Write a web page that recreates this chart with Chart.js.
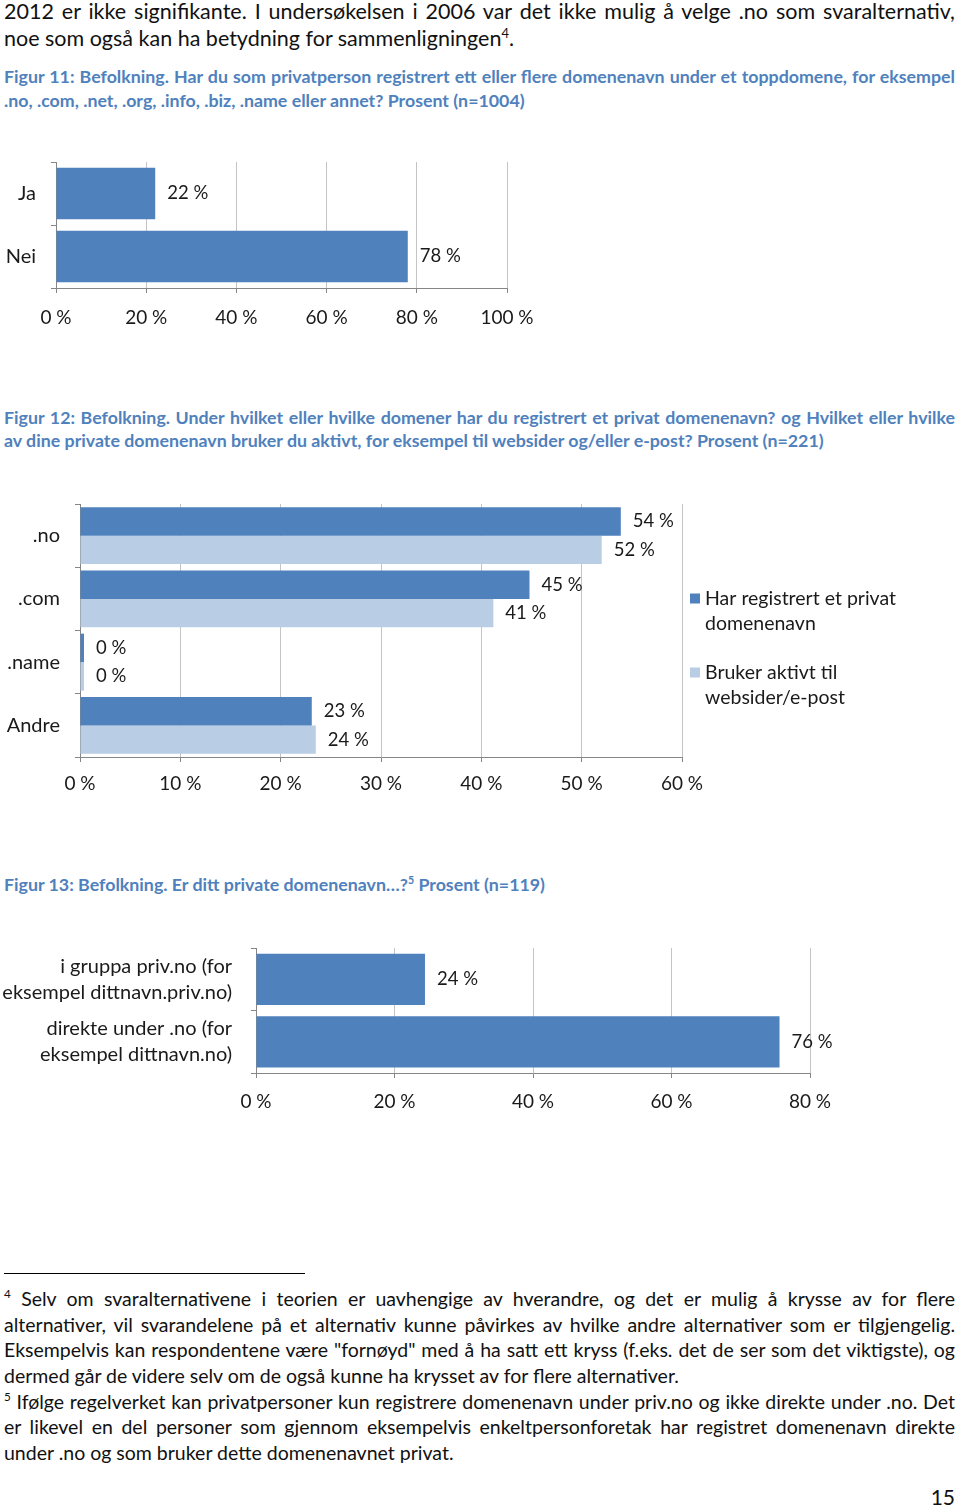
<!DOCTYPE html>
<html>
<head>
<meta charset="utf-8">
<script src="https://cdn.jsdelivr.net/npm/chart.js@4.4.1/dist/chart.umd.min.js"></script>
<style>
    body { margin: 0; width: 960px; height: 1507px; position: relative; background: #fff; font-family: Lato, sans-serif; color: #111; overflow: hidden; }
    .ln { position: absolute; left: 4px; width: 951px; white-space: nowrap; height: 26px; line-height: 26px; }
    .body { font-size: 21.5px; }
    .cap { font-size: 17.8px; font-weight: bold; color: #4F81BD; }
    .fn { font-size: 19.5px; }
    sup { font-size: 0.6em; vertical-align: 0; position: relative; top: -0.65em; }
    canvas { position: absolute; left: 0; }
    #rule { position: absolute; left: 4px; top: 1273px; width: 301px; height: 1px; background: #000; }
    #pagenr { position: absolute; right: 5px; top: 1484px; font-size: 21px; line-height: 26px; }
</style>
</head>
<body>

<div class="ln body j" style="top:-2px"><span>2012 er ikke signifikante. I undersøkelsen i 2006 var det ikke mulig å velge .no som svaralternativ,</span></div>
<div class="ln body" style="top:25px"><span>noe som også kan ha betydning for sammenligningen<sup>4</sup>.</span></div>

<div class="ln cap j" style="top:63px"><span>Figur 11: Befolkning. Har du som privatperson registrert ett eller flere domenenavn under et toppdomene, for eksempel</span></div>
<div class="ln cap" style="top:87px"><span>.no, .com, .net, .org, .info, .biz, .name eller annet? Prosent (n=1004)</span></div>

<canvas id="fig11" width="560" height="190" style="top:150px"></canvas>

<div class="ln cap j" style="top:404px"><span>Figur 12: Befolkning. Under hvilket eller hvilke domener har du registrert et privat domenenavn? og Hvilket eller hvilke</span></div>
<div class="ln cap" style="top:427px"><span>av dine private domenenavn bruker du aktivt, for eksempel til websider og/eller e-post? Prosent (n=221)</span></div>

<canvas id="fig12" width="900" height="310" style="top:495px"></canvas>

<div class="ln cap" style="top:871px"><span>Figur 13: Befolkning. Er ditt private domenenavn…?<sup>5</sup> Prosent (n=119)</span></div>

<canvas id="fig13" width="860" height="180" style="top:940px"></canvas>

<div id="rule"></div>
<div class="ln fn j" style="top:1286px"><span><sup>4</sup> Selv om svaralternativene i teorien er uavhengige av hverandre, og det er mulig å krysse av for flere</span></div>
<div class="ln fn j" style="top:1312px"><span>alternativer, vil svarandelene på et alternativ kunne påvirkes av hvilke andre alternativer som er tilgjengelig.</span></div>
<div class="ln fn j" style="top:1337px"><span>Eksempelvis kan respondentene være "fornøyd" med å ha satt ett kryss (f.eks. det de ser som det viktigste), og</span></div>
<div class="ln fn" style="top:1363px"><span>dermed går de videre selv om de også kunne ha krysset av for flere alternativer.</span></div>
<div class="ln fn j" style="top:1389px"><span><sup>5</sup> Ifølge regelverket kan privatpersoner kun registrere domenenavn under priv.no og ikke direkte under .no. Det</span></div>
<div class="ln fn j" style="top:1414px"><span>er likevel en del personer som gjennom eksempelvis enkeltpersonforetak har registret domenenavn direkte</span></div>
<div class="ln fn" style="top:1440px"><span>under .no og som bruker dette domenenavnet privat.</span></div>
<div id="pagenr">15</div>

<script>
// data
const fig11Labels = ['Ja', 'Nei'];
const fig11Values = [22, 78];

const fig12Labels = ['.no', '.com', '.name', 'Andre'];
const fig12Series = [['Har registrert et privat', 'domenenavn'], ['Bruker aktivt til', 'websider/e-post']];
const fig12Registrert = [53.9, 44.8, 0.4, 23.1];
const fig12Aktivt = [52.0, 41.2, 0.4, 23.5];

const fig13Labels = [['i gruppa priv.no (for', 'eksempel dittnavn.priv.no)'], ['direkte under .no (for', 'eksempel dittnavn.no)']];
const fig13Values = [24.4, 75.6];

const darkBlue = '#4F81BD';
const lightBlue = '#B9CDE5';
const axisGray = '#868686';
const gridGray = '#C4C4C4';
const textColor = '#1a1a1a';

Chart.defaults.font.family = 'Lato, sans-serif';
Chart.defaults.font.size = 19;
Chart.defaults.color = textColor;

// value labels just right of each bar
const barValueLabels = {
    id: 'barValueLabels',
    afterDatasetsDraw(chart) {
        const ctx = chart.ctx;
        ctx.save();
        ctx.font = '18.5px Lato, sans-serif';
        ctx.fillStyle = textColor;
        ctx.textBaseline = 'middle';
        ctx.textAlign = 'left';
        chart.data.datasets.forEach((ds, i) => {
            chart.getDatasetMeta(i).data.forEach((bar, j) => {
                ctx.fillText(Math.round(ds.data[j]) + ' %', bar.x + 12, bar.y);
            });
        });
        ctx.restore();
    }
};

// legend on the right side, two lines per entry
const sideLegend = {
    id: 'sideLegend',
    afterDraw(chart, args, options) {
        if (!options.lines) return;
        const ctx = chart.ctx;
        const area = chart.chartArea;
        let y = (area.top + area.bottom) / 2 - 32;
        ctx.save();
        ctx.font = '19.5px Lato, sans-serif';
        ctx.textBaseline = 'middle';
        chart.data.datasets.forEach((ds, i) => {
            ctx.fillStyle = ds.backgroundColor;
            ctx.fillRect(area.right + 8, y - 5, 10, 10);
            ctx.fillStyle = textColor;
            options.lines[i].forEach((t, k) => {
                ctx.fillText(t, area.right + 23, y + k * 25);
            });
            y += 74;
        });
        ctx.restore();
    }
};

function barOptions(opt) {
    return {
        indexAxis: 'y',
        responsive: false,
        animation: false,
        layout: { padding: { top: opt.top, right: opt.right, left: 0, bottom: 0 } },
        plugins: {
            legend: { display: false },
            tooltip: { enabled: false },
            sideLegend: { lines: opt.legendLines }
        },
        scales: {
            x: {
                min: 0,
                max: opt.max,
                ticks: { stepSize: opt.step, padding: opt.xPad, callback: v => v + ' %' },
                grid: { color: gridGray, tickColor: axisGray, tickLength: 5 },
                border: { color: axisGray },
                afterFit: s => { s.height = opt.xHeight; s.paddingLeft = 0; s.paddingRight = 0; }
            },
            y: {
                grid: { drawOnChartArea: false, offset: true, tickColor: axisGray, tickLength: 5 },
                border: { color: axisGray },
                ticks: { padding: opt.yPad, autoSkip: false, font: { size: 20, lineHeight: 1.28 } },
                afterFit: s => { s.width = opt.yWidth; s.paddingTop = 0; s.paddingBottom = 0; }
            }
        }
    };
}

new Chart(document.getElementById('fig11'), {
    type: 'bar',
    data: {
        labels: fig11Labels,
        datasets: [{ data: fig11Values, backgroundColor: darkBlue, barPercentage: 0.82, categoryPercentage: 1 }]
    },
    options: barOptions({ top: 12, right: 53, max: 100, step: 20, xPad: 13, xHeight: 52, yPad: 15, yWidth: 56 }),
    plugins: [barValueLabels]
});

new Chart(document.getElementById('fig12'), {
    type: 'bar',
    data: {
        labels: fig12Labels,
        datasets: [
            { label: fig12Series[0].join(' '), data: fig12Registrert, backgroundColor: darkBlue, barPercentage: 1, categoryPercentage: 0.9 },
            { label: fig12Series[1].join(' '), data: fig12Aktivt, backgroundColor: lightBlue, barPercentage: 1, categoryPercentage: 0.9 }
        ]
    },
    options: barOptions({ top: 9, right: 218, max: 60, step: 10, xPad: 10, xHeight: 48, yPad: 15, yWidth: 80, legendLines: fig12Series }),
    plugins: [barValueLabels, sideLegend]
});

new Chart(document.getElementById('fig13'), {
    type: 'bar',
    data: {
        labels: fig13Labels,
        datasets: [{ data: fig13Values, backgroundColor: darkBlue, barPercentage: 0.82, categoryPercentage: 1 }]
    },
    options: barOptions({ top: 8, right: 50, max: 80, step: 20, xPad: 12, xHeight: 47, yPad: 19, yWidth: 256 }),
    plugins: [barValueLabels]
});

// justify single lines like the word document does
function fitLines() {
    const lineWidth = 951;
    document.querySelectorAll('.ln.j').forEach(el => {
        el.style.fontSize = '';
        el.style.wordSpacing = '0px';
        const span = el.firstElementChild;
        let w = span.getBoundingClientRect().width;
        if (w > lineWidth) {
            const fs = parseFloat(getComputedStyle(el).fontSize);
            el.style.fontSize = (fs * lineWidth / w * 0.99) + 'px';
            w = span.getBoundingClientRect().width;
        }
        const spaces = (span.textContent.match(/ /g) || []).length;
        if (spaces > 0) el.style.wordSpacing = ((lineWidth - w) / spaces) + 'px';
    });
}
fitLines();
if (document.fonts) document.fonts.ready.then(fitLines);
</script>
</body>
</html>
